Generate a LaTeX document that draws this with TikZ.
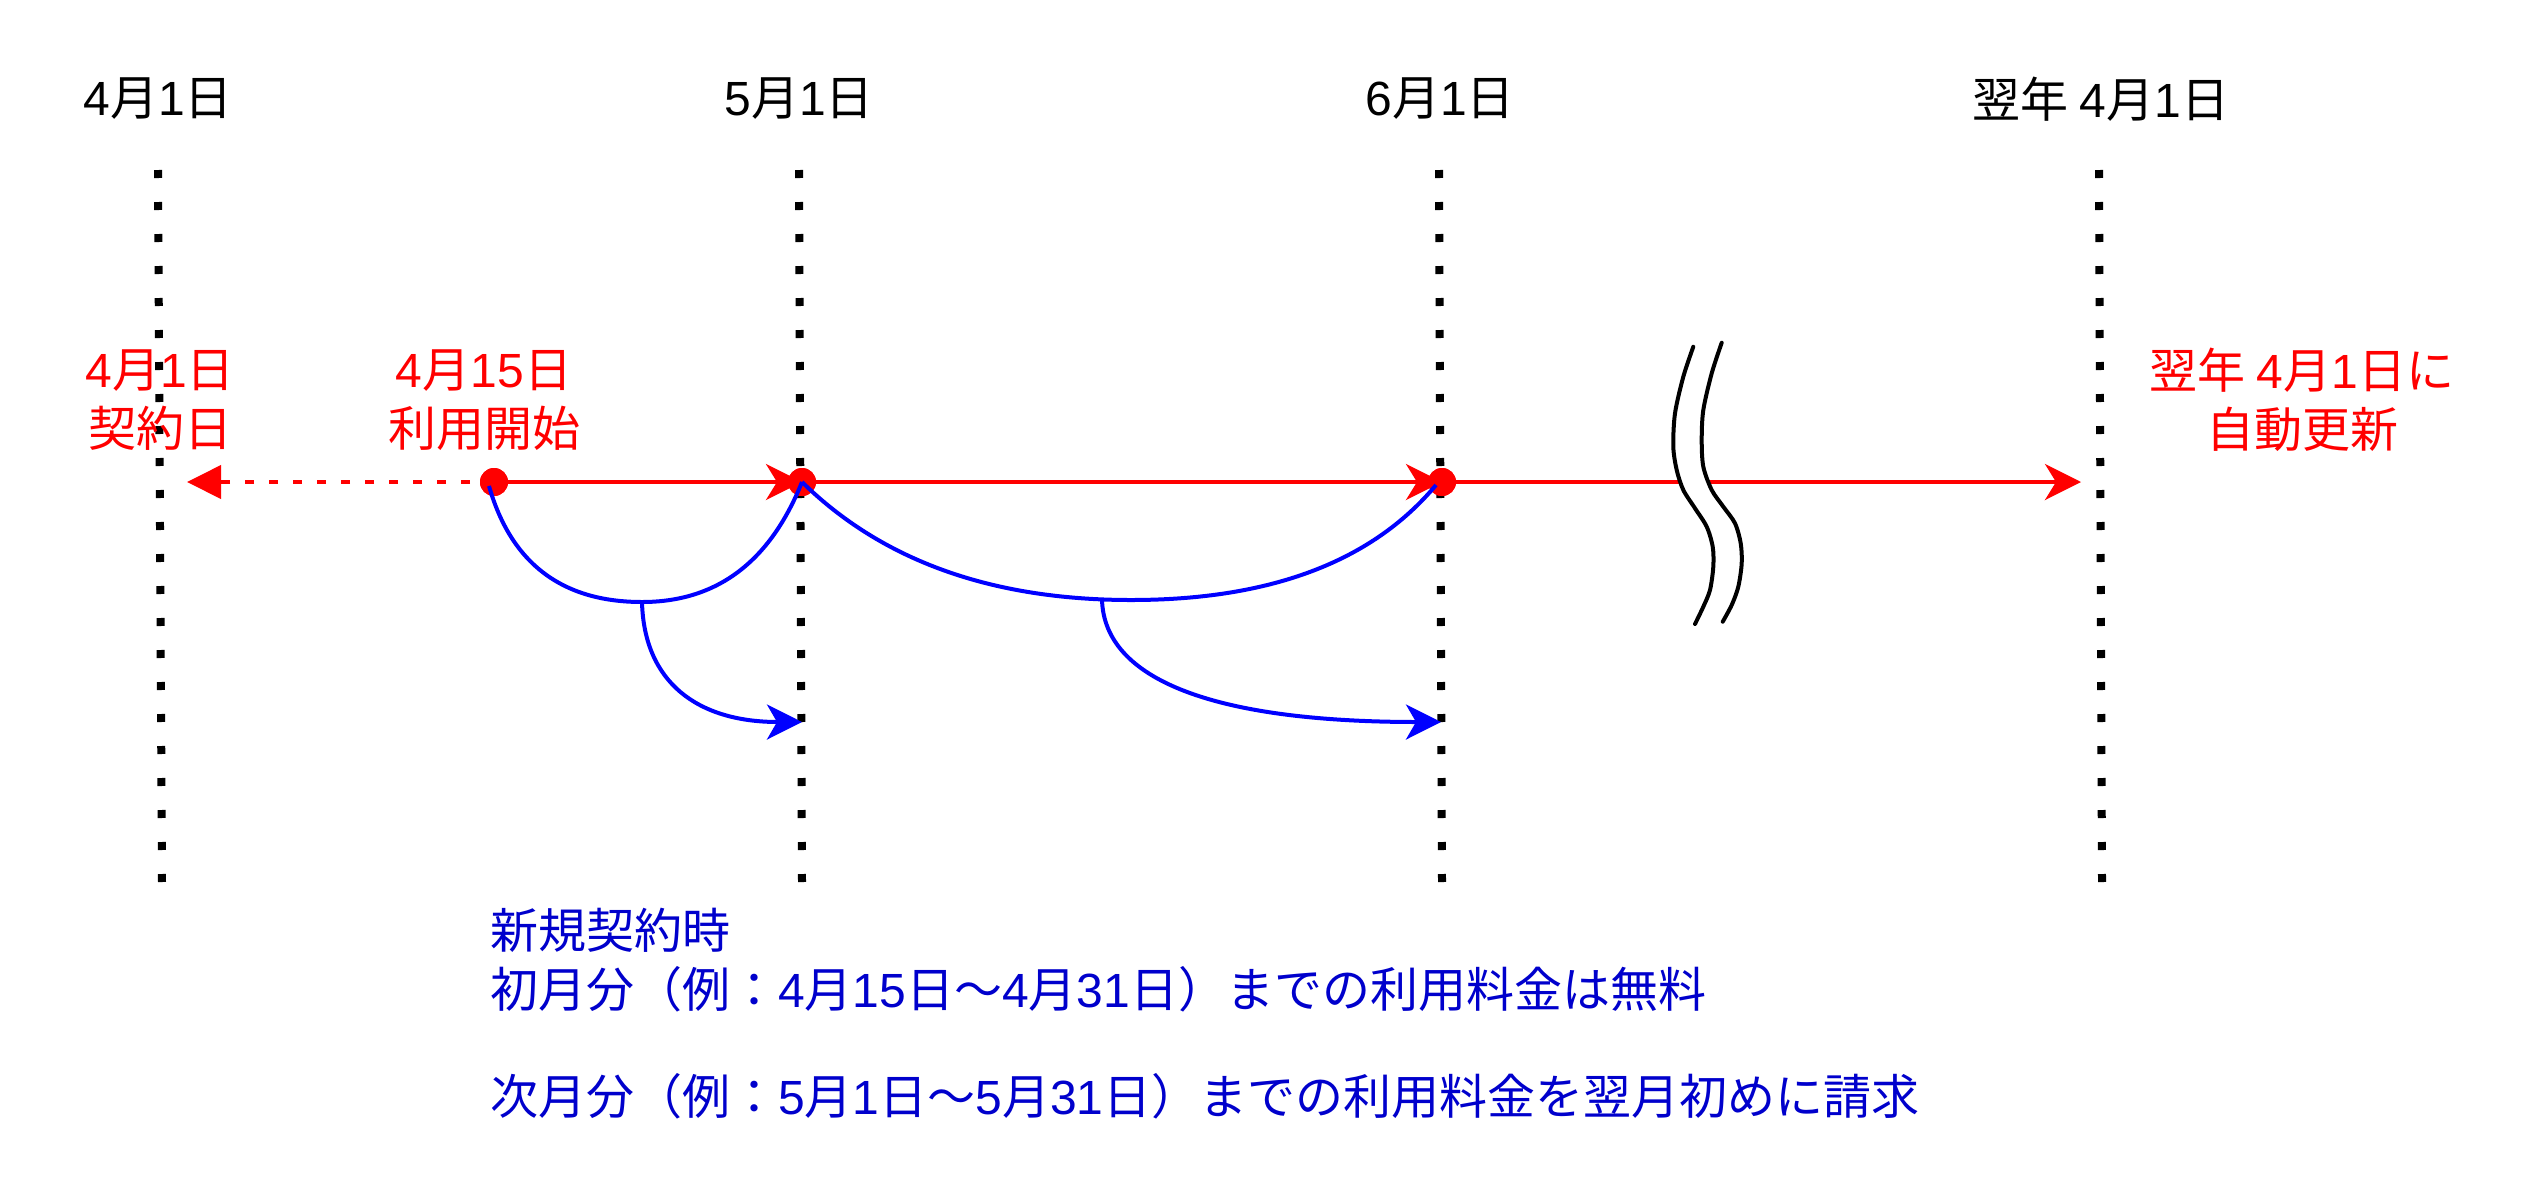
\documentclass[tikz,border=0pt]{standalone}
\usepackage{fontspec}
\setmainfont{Noto Sans CJK JP}
\newfontfamily\latf{Liberation Sans}
\newcommand\D[1]{{\latf #1}}
\usetikzlibrary{arrows.meta}
\definecolor{myred}{HTML}{FF0000}
\definecolor{myblue}{HTML}{0000FF}
\definecolor{txtblue}{HTML}{0000CC}
\begin{document}
\begin{tikzpicture}[x=1pt,y=-1pt,
  lbl/.style={font=\fontsize{48}{59}\selectfont, inner sep=0pt, align=center},
  vdot/.style={line width=8pt, dash pattern=on 8pt off 24pt},
  redln/.style={draw=myred, line width=4pt},
  tipR/.style={-{Stealth[length=36pt,width=36pt,inset=11pt]}},
  tipT/.style={-{Triangle[length=34pt,width=33pt]}},
  blueln/.style={draw=myblue, line width=4pt},
  tipB/.style={-{Stealth[length=35pt,width=35pt,inset=10pt]}},
  reddot/.style={circle, fill=myred, minimum size=28pt, inner sep=0pt},
  brk/.style={line width=4pt, line cap=round}
]
\useasboundingbox[fill=white] (0,0) rectangle (2540,1200);

% vertical dotted lines
\coordinate (v1t) at (158,170); \coordinate (v1b) at (162,882);
\coordinate (v2t) at (799,170); \coordinate (v2b) at (802,882);
\coordinate (v3t) at (1439,170); \coordinate (v3b) at (1442,882);
\coordinate (v4t) at (2099,170); \coordinate (v4b) at (2102,882);
\draw[vdot] (v1t) -- (v1b);
\draw[vdot] (v2t) -- (v2b);
\draw[vdot] (v3t) -- (v3b);
\draw[vdot] (v4t) -- (v4b);

% top labels
\node[lbl] (t1) at (158,99) {\D{4}月\D{1}日};
\node[lbl] (t2) at (799,99) {\D{5}月\D{1}日};
\node[lbl] (t3) at (1440,99) {\D{6}月\D{1}日};
\node[lbl] (t4) at (2101,99) {翌年 \D{4}月\D{1}日};

% red labels
\node[lbl, text=myred] (r1) at (160,400) {\D{4}月\D{1}日\\契約日};
\node[lbl, text=myred] (r2) at (484,400) {\D{4}月\D{15}日\\利用開始};
\node[lbl, text=myred] (r3) at (2302,400) {翌年 \D{4}月\D{1}日に\\自動更新};

% red timeline
\node[reddot] (d1) at (494,482) {};
\node[reddot] (d2) at (802,482) {};
\node[reddot] (d3) at (1442,482) {};
\coordinate (tipL) at (187,482);
\coordinate (endR) at (2081,482);
\draw[redln, dash pattern=on 9pt off 15pt, tipT] (d1.center) -- (tipL);
\draw[redln, tipR] (d1.center) -- (d2.center);
\draw[redln, tipR] (d2.center) -- (d3.center);
\draw[redln, tipR] (d3.center) -- (endR);

% break mark
\fill[white] plot[smooth] coordinates {(1693.3,346.7) (1683.3,376.7) (1675,413.3) (1673.3,446.7) (1676.7,470) (1683.3,490) (1695,508.3) (1706.7,526.7) (1712.7,546.7) (1713.3,566.7) (1710,590) (1703.3,606.7) (1695,624)}
  -- plot[smooth] coordinates {(1722.7,621.7) (1731.7,605) (1738.3,586.7) (1741.7,563.3) (1740.7,543.3) (1735,523.3) (1723.3,506.7) (1711.7,490) (1703.3,466.7) (1701.7,440) (1703.3,410) (1711.7,373.3) (1721.7,342.7)} -- cycle;
\draw[brk] plot[smooth] coordinates {(1693.3,346.7) (1683.3,376.7) (1675,413.3) (1673.3,446.7) (1676.7,470) (1683.3,490) (1695,508.3) (1706.7,526.7) (1712.7,546.7) (1713.3,566.7) (1710,590) (1703.3,606.7) (1695,624)};
\draw[brk] plot[smooth] coordinates {(1721.7,342.7) (1711.7,373.3) (1703.3,410) (1701.7,440) (1703.3,466.7) (1711.7,490) (1723.3,506.7) (1735,523.3) (1740.7,543.3) (1741.7,563.3) (1738.3,586.7) (1731.7,605) (1722.7,621.7)};

% redraw dots on top
\node[reddot] at (d1) {};
\node[reddot] at (d2) {};
\node[reddot] at (d3) {};

% blue curves
\coordinate (b1s) at (489,486);
\coordinate (m1) at (642,602);
\coordinate (a1) at (802,722);
\draw[blueln] (b1s) .. controls (511,563.3) and (562,602) .. (m1) .. controls (716.7,602) and (770,562) .. (d2.center);
\draw[blueln, tipB] (m1) .. controls (644,682) and (697,722) .. (a1);

\coordinate (q2) at (1131,600);
\coordinate (b2e) at (1436,485);
\coordinate (m2) at (1102,599.4);
\coordinate (a2) at (1441,722);
\draw[blueln] (d2.center) .. controls (882,560.7) and (991.7,600) .. (q2) .. controls (1270.3,600) and (1372,561.7) .. (b2e);
\draw[blueln, tipB] (m2) .. controls (1104,681) and (1217,722) .. (a2);

% bottom note
\node[lbl, text=txtblue, align=left, anchor=north west] (note) at (490,908)
  {新規契約時\\初月分（例：\D{4}月\D{15}日〜\D{4}月\D{31}日）までの利用料金は無料\\[48pt]次月分（例：\D{5}月\D{1}日〜\D{5}月\D{31}日）までの利用料金を翌月初めに請求};
\end{tikzpicture}
\end{document}
